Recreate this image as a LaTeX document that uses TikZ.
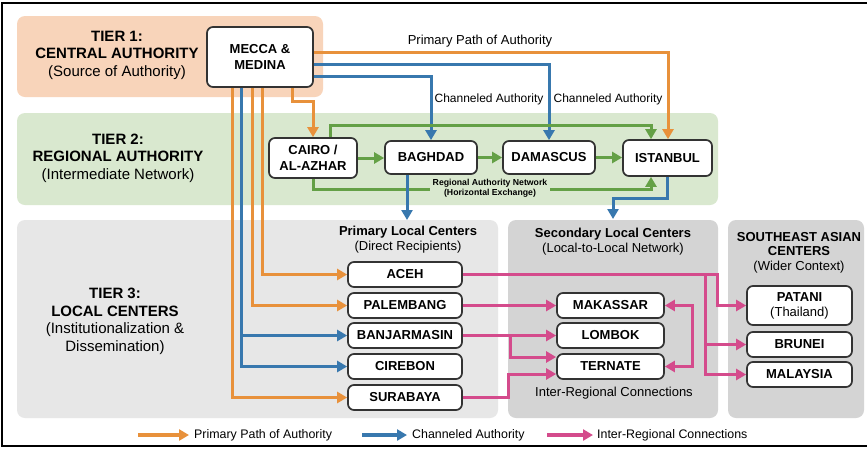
\documentclass[tikz,border=0pt]{standalone}
\usepackage{fontspec}
\setmainfont{Liberation Sans}
\usetikzlibrary{arrows.meta}
\definecolor{peach}{HTML}{F8D4BA}
\definecolor{greenbg}{HTML}{D9E8CF}
\definecolor{graybg}{HTML}{E7E7E7}
\definecolor{graybgb}{HTML}{D4D4D4}
\definecolor{oc}{HTML}{E8913B}
\definecolor{bc}{HTML}{3878AE}
\definecolor{gc}{HTML}{64A046}
\definecolor{pc}{HTML}{D44B8C}
\definecolor{boxline}{HTML}{333333}
\begin{document}
\begin{tikzpicture}[x=1pt,y=-1pt,
  >={Triangle[length=10pt,width=11pt]},
  cbox/.style={draw=boxline, line width=1.7pt, rounded corners=6pt, fill=white, inner sep=0pt, align=center, font=\fontsize{13}{16}\selectfont\bfseries},
  conn/.style={line width=3pt, ->},
  ocn/.style={conn, draw=oc},
  bcn/.style={conn, draw=bc},
  gcn/.style={conn, draw=gc},
  pcn/.style={conn, draw=pc},
  tierlabel/.style={align=center, inner sep=0pt, font=\fontsize{15}{17.5}\selectfont},
  headlabel/.style={align=center, inner sep=0pt, font=\fontsize{13}{15}\selectfont},
  pathlabel/.style={inner sep=0pt, font=\fontsize{12}{14}\selectfont},
  legtext/.style={anchor=west, inner sep=0pt, font=\fontsize{12.4}{14}\selectfont}
]
\useasboundingbox (0,0) rectangle (867,448);
\fill[white] (0,0) rectangle (867,448);
% frame
\draw[line width=2pt, black] (868,3) -- (2,3) -- (2,446) -- (868,446);
% bands
\fill[peach, rounded corners=8pt] (17,16) rectangle (323,97);
\fill[greenbg, rounded corners=8pt] (17,113) rectangle (718,205);
\fill[graybg, rounded corners=8pt] (17,220) rectangle (498,418);
\fill[graybgb, rounded corners=8pt] (508,220) rectangle (718,418);
\fill[graybgb, rounded corners=8pt] (728,220) rectangle (864,418);
% tier labels
\node[tierlabel] (t1) at (117,55) {\textbf{TIER 1:}\\\textbf{CENTRAL AUTHORITY}\\(Source of Authority)};
\node[tierlabel] (t2) at (118,158) {\textbf{TIER 2:}\\\textbf{REGIONAL AUTHORITY}\\(Intermediate Network)};
\node[tierlabel] (t3) at (115,321.5) {\textbf{TIER 3:}\\\textbf{LOCAL CENTERS}\\(Institutionalization \&\\Dissemination)};
% nodes
\node[cbox, minimum width=106pt, minimum height=60pt] (mecca) at (260,57) {MECCA \&\\MEDINA};
\node[cbox, minimum width=88pt, minimum height=40pt] (cairo) at (313,158) {CAIRO /\\AL-AZHAR};
\node[cbox, minimum width=92pt, minimum height=33pt] (baghdad) at (431,157.5) {BAGHDAD};
\node[cbox, minimum width=92pt, minimum height=33pt] (damascus) at (549,157.5) {DAMASCUS};
\node[cbox, minimum width=89pt, minimum height=36pt] (istanbul) at (667.5,158) {ISTANBUL};
\node[cbox, minimum width=114pt, minimum height=25pt] (aceh) at (405,274.5) {ACEH};
\node[cbox, minimum width=114pt, minimum height=25pt] (palembang) at (405,305.5) {PALEMBANG};
\node[cbox, minimum width=114pt, minimum height=25pt] (banjarmasin) at (405,335.5) {BANJARMASIN};
\node[cbox, minimum width=114pt, minimum height=25pt] (cirebon) at (405,366.5) {CIREBON};
\node[cbox, minimum width=114pt, minimum height=25pt] (surabaya) at (405,397.5) {SURABAYA};
\node[cbox, minimum width=107pt, minimum height=25pt] (makassar) at (610.5,305.5) {MAKASSAR};
\node[cbox, minimum width=107pt, minimum height=25pt] (lombok) at (610.5,335.5) {LOMBOK};
\node[cbox, minimum width=107pt, minimum height=25pt] (ternate) at (610.5,366.5) {TERNATE};
\node[cbox, minimum width=105pt, minimum height=39pt, font=\fontsize{13}{15}\selectfont] (patani) at (799.5,305.5) {\textbf{PATANI}\\(Thailand)};
\node[cbox, minimum width=105pt, minimum height=25pt] (brunei) at (799.5,344.5) {BRUNEI};
\node[cbox, minimum width=105pt, minimum height=25pt] (malaysia) at (799.5,374.5) {MALAYSIA};
% headings
\node[headlabel] (plc) at (408,240) {\textbf{Primary Local Centers}\\(Direct Recipients)};
\node[headlabel] (slc) at (613,242) {\textbf{Secondary Local Centers}\\(Local-to-Local Network)};
\node[headlabel, font=\fontsize{13}{14.5}\selectfont] (sea) at (799,252.5) {\textbf{SOUTHEAST ASIAN}\\\textbf{CENTERS}\\(Wider Context)};
\node[headlabel] (irc) at (614,393) {Inter-Regional Connections};
% path labels
\node[pathlabel, font=\fontsize{13}{14}\selectfont] (ppa) at (480,41) {Primary Path of Authority};
\node[pathlabel] (ca1) at (489,99) {Channeled Authority};
\node[pathlabel] (ca2) at (608,99) {Channeled Authority};
% free ends
\coordinate (plcarrow) at (407,220);
\coordinate (slcarrow) at (613,219);
% tier 1 -> tier 2
\draw[ocn] (mecca.east |- 0,52) -| (istanbul.north -| 668,0);
\draw[bcn] (mecca.east |- 0,64) -| (damascus.north);
\draw[bcn] (mecca.east |- 0,76) -| (baghdad.north);
\draw[ocn] (mecca.south -| 292,0) -- (292,101) -| (cairo.north);
% green network
\draw[gcn] (cairo.north -| 330,0) -- (330,125) -| (istanbul.north -| 651,0);
\draw[gcn] (cairo.east) -- (cairo.east -| baghdad.west);
\draw[gcn] (baghdad.east) -- (damascus.west);
\draw[gcn] (damascus.east) -- (damascus.east -| istanbul.west);
\draw[gcn] (cairo.south) -- (cairo.south |- 0,189) -| (istanbul.south -| 651,0);
\node[align=center, inner sep=0pt, inner xsep=3pt, fill=greenbg, font=\fontsize{8.7}{9.5}\selectfont\bfseries] (rannet) at (490,188.5) {Regional Authority Network\\(Horizontal Exchange)};
% tier 2 -> tier 3
\draw[bcn] (baghdad.south -| plcarrow) -- (plcarrow);
\draw[bcn] (istanbul.south -| 667,0) -- (667,198) -| (slcarrow);
% mecca -> local centers
\draw[ocn] (mecca.south -| 232,0) |- (surabaya.west);
\draw[bcn] (mecca.south -| 241,0) |- (cirebon.west);
\draw[bcn] (banjarmasin.west -| 241,0) -- (banjarmasin.west);
\draw[ocn] (mecca.south -| 252,0) |- (palembang.west);
\draw[ocn] (mecca.south -| 262,0) |- (aceh.west);
% inter-regional
\draw[pcn] (aceh.east) -- (aceh.east -| 717,0) |- (patani.west);
\draw[pcn] (aceh.east -| 705,0) |- (malaysia.west);
\draw[pcn] (brunei.west -| 705,0) -- (brunei.west);
\draw[pcn] (palembang.east) -- (makassar.west);
\draw[pcn] (banjarmasin.east) -- (lombok.west);
\draw[pcn] (banjarmasin.east -| 510,0) |- (ternate.west |- 0,357);
\draw[pcn] (surabaya.east) -- (surabaya.east -| 508,0) |- (ternate.west |- 0,374);
\draw[pcn, <->] (makassar.east) -- (makassar.east -| 692,0) |- (ternate.east);
% legend
\coordinate (lo1) at (138,435); \coordinate (lo2) at (189,435);
\coordinate (lb1) at (362,435); \coordinate (lb2) at (407,435);
\coordinate (lp1) at (547,435); \coordinate (lp2) at (593,435);
\draw[ocn, line width=3.2pt] (lo1) -- (lo2);
\draw[bcn, line width=3.2pt] (lb1) -- (lb2);
\draw[pcn, line width=3.2pt] (lp1) -- (lp2);
\node[legtext] (lot) at (194,435) {Primary Path of Authority};
\node[legtext] (lbt) at (412,435) {Channeled Authority};
\node[legtext] (lpt) at (597,435) {Inter-Regional Connections};
\end{tikzpicture}
\end{document}
